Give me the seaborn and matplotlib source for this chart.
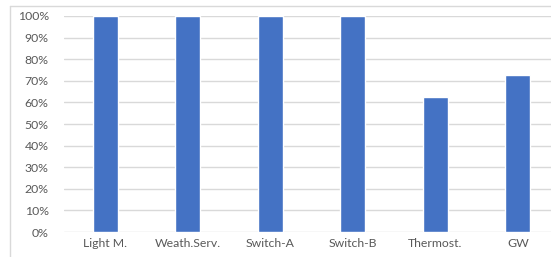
import matplotlib
matplotlib.use("Agg")
import matplotlib.pyplot as plt
from matplotlib.lines import Line2D
import pandas as pd
import seaborn as sns
from matplotlib.ticker import PercentFormatter, MultipleLocator

# values
devices = ["Light M.", "Weath.Serv.", "Switch-A", "Switch-B", "Thermost.", "GW"]
share = [1.0, 1.0, 1.0, 1.0, 0.625, 0.727]

df = pd.DataFrame({"device": devices, "share": share})

sns.set_style("white")
plt.rcParams["font.family"] = ["Lato", "DejaVu Sans"]

fig = plt.figure(figsize=(5.51, 2.57), dpi=100)
# axes runs a bit past the right edge of the image, like the cropped original
ax = fig.add_axes([64 / 551, 0.097, 495 / 551, 0.841])

sns.barplot(data=df, x="device", y="share", color="#4472C4", width=0.30,
            saturation=1, ax=ax, zorder=3)

ax.set_ylim(0, 1)
ax.yaxis.set_major_locator(MultipleLocator(0.1))
ax.yaxis.set_major_formatter(PercentFormatter(1.0, decimals=0))
ax.grid(axis="y", color="#d9d9d9", linewidth=1, zorder=0)
ax.set_axisbelow(True)
for s in ax.spines.values():
    s.set_visible(False)
ax.tick_params(axis="both", length=0, labelsize=8.8, colors="#595959")
ax.tick_params(axis="y", pad=11)
ax.tick_params(axis="x", pad=4)
ax.set_xlabel("")
ax.set_ylabel("")

# chart frame: only left and top edges are visible in the crop
fx, fy = 10 / 551, 1 - 6 / 257
fig.add_artist(Line2D([fx, fx], [0, fy], transform=fig.transFigure, color="#d9d9d9", lw=1))
fig.add_artist(Line2D([fx, 1], [fy, fy], transform=fig.transFigure, color="#d9d9d9", lw=1))

fig.savefig("out.png", dpi=100)
